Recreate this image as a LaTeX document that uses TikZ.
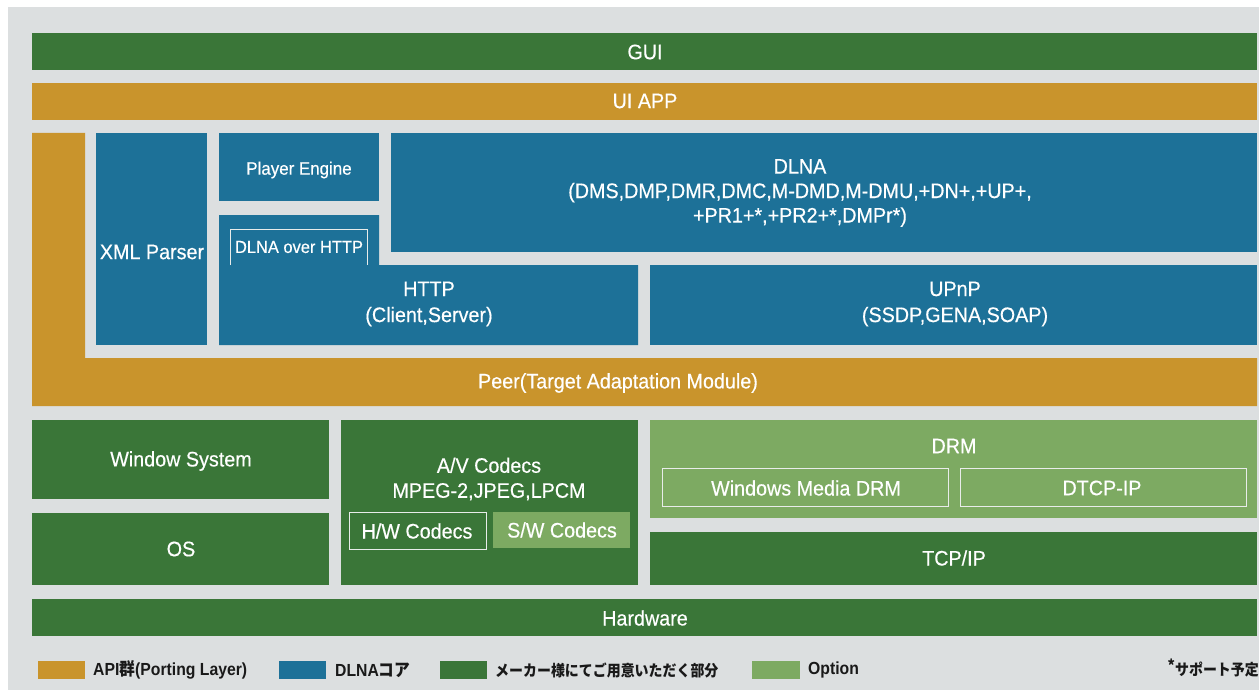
\documentclass[tikz,border=0pt]{standalone}
\usepackage{fontspec}
\setmainfont{Liberation Sans}[FakeStretch=0.94,FakeBold=0.4]
\newfontfamily\legfont{Liberation Sans}[FakeStretch=0.9]
\newfontfamily\cjk{Noto Sans CJK JP}[FakeStretch=0.9]
\definecolor{dkgreen}{HTML}{3A7638}
\definecolor{apiorange}{HTML}{C9942C}
\definecolor{coreblue}{HTML}{1D7198}
\definecolor{ltgreen}{HTML}{7DAA62}
\definecolor{bggray}{HTML}{DCDFE0}
\definecolor{linewhite}{HTML}{E8ECEA}
\newcommand\mybox[6]{%
  \node[blk,fill=#2,minimum width={(#5-#3)*1pt},minimum height={(#6-#4)*1pt}] (#1) at (#3,#4) {};}
\begin{document}
\begin{tikzpicture}[x=1pt,y=-1pt,
  blk/.style={draw=none,inner sep=0pt,outer sep=0pt,anchor=north west},
  lbl/.style={text=white,font=\fontsize{21}{26}\selectfont,align=center,inner sep=0pt},
  outl/.style={draw=linewhite,line width=0.9pt},
  leg/.style={text=black!90,font=\legfont\bfseries\fontsize{17.5}{20}\selectfont,anchor=west,inner sep=0pt},
  legj/.style={text=black!90,font=\cjk\bfseries\fontsize{15.5}{18}\selectfont,anchor=west,inner sep=0pt}]
\useasboundingbox (0,0) rectangle (1259,690);
\fill[white] (0,0) rectangle (1259,690);
\fill[bggray] (8,7) rectangle (1259,690);
% top bars
\mybox{gui}{dkgreen}{32}{33}{1257}{70}
\mybox{uiapp}{apiorange}{32}{83}{1257}{120}
% orange L (porting layer / peer)
\fill[apiorange] (32,133) -- (85,133) -- (85,358) -- (1257,358) -- (1257,406) -- (32,406) -- cycle;
% DLNA core blocks
\mybox{xml}{coreblue}{96}{133}{207}{345}
\mybox{player}{coreblue}{219}{133}{379}{201}
\fill[coreblue] (219,215) -- (379,215) -- (379,265) -- (638,265) -- (638,345) -- (219,345) -- cycle;
\mybox{dlna}{coreblue}{391}{133}{1257}{252}
\mybox{upnp}{coreblue}{650}{265}{1257}{345}
\draw[outl] (230,265) -- (230,229) -- (367,229) -- (367,265);
% lower blocks
\mybox{win}{dkgreen}{32}{420}{329}{499}
\mybox{os}{dkgreen}{32}{513}{329}{585}
\mybox{av}{dkgreen}{341}{420}{638}{585}
\mybox{sw}{ltgreen}{493}{512}{630}{548}
\draw[outl] (349,512) rectangle (486,549);
\mybox{drm}{ltgreen}{650}{420}{1257}{518}
\draw[outl] (662,468) rectangle (948,506);
\draw[outl] (960,468) rectangle (1246,506);
\mybox{tcp}{dkgreen}{650}{532}{1257}{585}
\mybox{hw}{dkgreen}{32}{599}{1257}{636}
% labels
\node[lbl] (tgui) at (645,52) {GUI};
\node[lbl] (tui) at (645,101) {UI APP};
\node[lbl] (txml) at (152,252) {XML Parser};
\node[lbl,font=\fontsize{18}{22}\selectfont] (tplayer) at (299,170) {Player Engine};
\node[lbl,font=\fontsize{17.5}{22}\selectfont] (toverhttp) at (299,247) {DLNA over HTTP};
\node[lbl] (thttp) at (429,304) {HTTP\\(Client,Server)};
\node[lbl,font=\fontsize{21}{24.5}\selectfont] (tdlna) at (800,193) {DLNA\\(DMS,DMP,DMR,DMC,M-DMD,M-DMU,+DN+,+UP+,\\+PR1+*,+PR2+*,DMPr*)};
\node[lbl] (tupnp) at (955,304) {UPnP\\(SSDP,GENA,SOAP)};
\node[lbl] (tpeer) at (618,383) {Peer(Target Adaptation Module)};
\node[lbl] (twin) at (181,461) {Window System};
\node[lbl] (tos) at (181,549) {OS};
\node[lbl,font=\fontsize{21}{25}\selectfont] (tav) at (489,479) {A/V Codecs\\MPEG-2,JPEG,LPCM};
\node[lbl] (thwc) at (417,531) {H/W Codecs};
\node[lbl] (tswc) at (562,530) {S/W Codecs};
\node[lbl] (tdrm) at (954,446) {DRM};
\node[lbl] (twmd) at (806,488) {Windows Media DRM};
\node[lbl] (tdtcp) at (1102,488) {DTCP-IP};
\node[lbl] (ttcp) at (954,558) {TCP/IP};
\node[lbl] (thw) at (645,618) {Hardware};
% legend
\mybox{lg1}{apiorange}{38}{661}{85}{679}
\mybox{lg2}{coreblue}{279}{661}{326}{679}
\mybox{lg3}{dkgreen}{440}{661}{487}{679}
\mybox{lg4}{ltgreen}{752}{661}{800}{679}
\node[leg] (l1) at (93,670) {API{\cjk 群}(Porting Layer)};
\node[leg] (l2) at (335,670) {DLNA{\cjk コア}};
\node[legj] (l3) at (495,670) {メーカー様にてご用意いただく部分};
\node[leg] (l4) at (808,670) {Option};
\node[legj,anchor=east] (l5) at (1259,668) {\raisebox{0.45ex}{*}サポート予定};
\end{tikzpicture}
\end{document}
